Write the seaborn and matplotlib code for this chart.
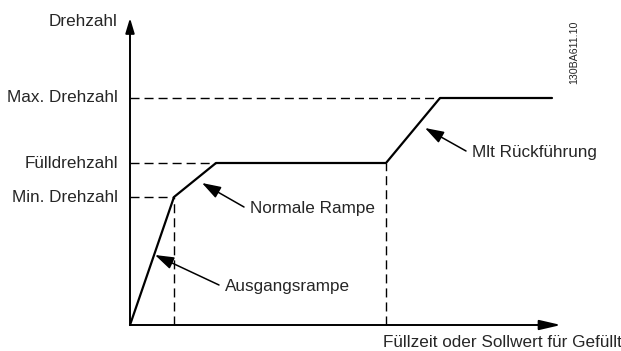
import matplotlib
matplotlib.use("Agg")
import matplotlib.pyplot as plt
import seaborn as sns

# ── Data (arbitrary units: time on x, speed on y) ─────────────────────────────
curve_t     = [0.0, 4.4, 8.6, 25.6, 31.0, 42.2]
curve_speed = [0.0, 12.8, 16.2, 16.2, 22.7, 22.7]

level_names  = ["Max. Drehzahl", "Fülldrehzahl", "Min. Drehzahl"]
level_values = [22.7, 16.2, 12.8]
level_ends   = [31.0, 8.6, 4.4]      # where each dashed guide meets the curve

drop_t     = [4.4, 25.6]             # vertical dashed guides
drop_speed = [12.8, 16.2]

annot_texts = ["Ausgangsrampe", "Normale Rampe", "Mlt Rückführung"]
annot_tip   = [(2.5, 7.0), (7.2, 14.2), (29.5, 19.7)]
annot_text  = [(9.5, 3.8), (12.0, 11.6), (34.2, 17.2)]

y_title = "Drehzahl"
x_title = "Füllzeit oder Sollwert für Gefüllt"
doc_id  = "130BA611.10"

# ── Figure ────────────────────────────────────────────────────────────────────
sns.set_style("white")
plt.rcParams["font.family"] = ["Liberation Sans", "DejaVu Sans"]
FS = 12.3

fig = plt.figure(figsize=(6.21, 3.51), dpi=100)
ax = fig.add_axes([0, 0, 1, 1])
ax.set_xlim(-13.0, 49.1)
ax.set_ylim(-2.6, 32.5)
ax.axis("off")

dash = (0, (6.5, 3.6))

# dashed guides
for name, lvl, end in zip(level_names, level_values, level_ends):
    ax.plot([0, end], [lvl, lvl], color="black", lw=1.0, linestyle=dash)
    ax.text(-1.2, lvl, name, ha="right", va="center", fontsize=FS)
for t, s in zip(drop_t, drop_speed):
    ax.plot([t, t], [0, s], color="black", lw=1.0, linestyle=dash)

# main curve
sns.lineplot(x=curve_t, y=curve_speed, ax=ax, color="black", lw=1.6,
             sort=False, estimator=None)

# axes with arrows
ax.annotate("", xy=(43.1, 0), xytext=(0, 0),
            arrowprops=dict(arrowstyle="-|>,head_length=1.3,head_width=0.3",
                            mutation_scale=10, color="black", lw=1.4,
                            shrinkA=0, shrinkB=0))
ax.annotate("", xy=(0, 30.7), xytext=(0, 0),
            arrowprops=dict(arrowstyle="-|>,head_length=0.9,head_width=0.27",
                            mutation_scale=10, color="black", lw=1.4,
                            shrinkA=0, shrinkB=0))

ax.text(-1.2, 30.3, y_title, ha="right", va="center", fontsize=FS)
ax.text(25.3, -2.2, x_title, ha="left", va="baseline", fontsize=FS)
ax.text(44.4, 27.3, doc_id, rotation=90, ha="center", va="center", fontsize=7.7)

# callouts
for txt, tip, pos in zip(annot_texts, annot_tip, annot_text):
    ax.annotate("", xy=tip, xytext=(pos[0] - 0.6, pos[1] + 0.2),
                arrowprops=dict(arrowstyle="-|>,head_length=1.15,head_width=0.38",
                                mutation_scale=10, color="black", lw=1.1,
                                shrinkA=0, shrinkB=0))
    ax.text(pos[0], pos[1], txt, ha="left", va="center", fontsize=FS)

fig.savefig("out.png", dpi=100)
